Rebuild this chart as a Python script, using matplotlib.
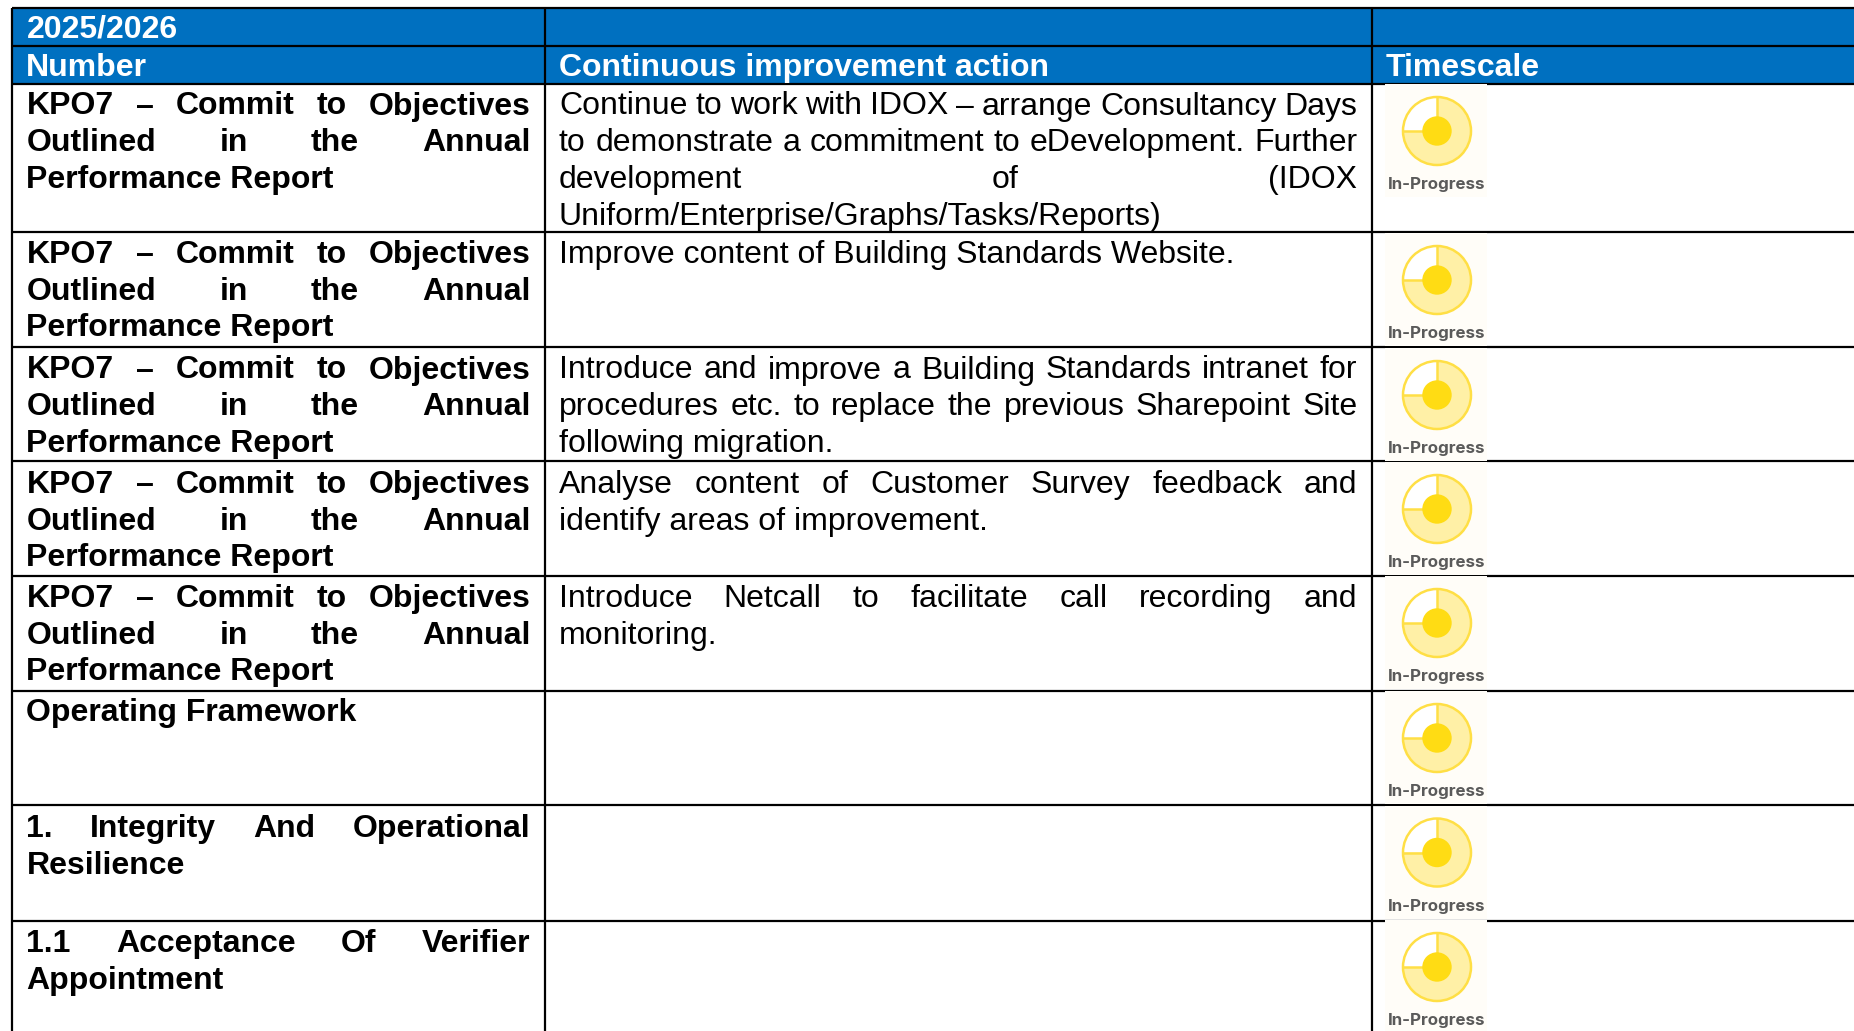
import matplotlib
matplotlib.use('Agg')
import matplotlib.pyplot as plt
from matplotlib.patches import Rectangle, Wedge, Circle

plt.rcParams['font.family'] = ['Liberation Sans', 'DejaVu Sans']

# table content, one list per line, last line of a cell is not justified
period = '2025/2026'
headers = ['Number', 'Continuous improvement action', 'Timescale']
kpo = ['KPO7 – Commit to Objectives', 'Outlined in the Annual', 'Performance Report']
numbers = [
    kpo, kpo, kpo, kpo, kpo,
    ['Operating Framework'],
    ['1. Integrity And Operational', 'Resilience'],
    ['1.1 Acceptance Of Verifier', 'Appointment'],
]
actions = [
    ['Continue to work with IDOX – arrange Consultancy Days',
     'to demonstrate a commitment to eDevelopment. Further',
     'development of (IDOX',
     'Uniform/Enterprise/Graphs/Tasks/Reports)'],
    ['Improve content of Building Standards Website.'],
    ['Introduce and improve a Building Standards intranet for',
     'procedures etc. to replace the previous Sharepoint Site',
     'following migration.'],
    ['Analyse content of Customer Survey feedback and',
     'identify areas of improvement.'],
    ['Introduce Netcall to facilitate call recording and',
     'monitoring.'],
    [], [], [],
]
status = 'In-Progress'

# layout, in pixels
W, H = 1854, 1031
col_x = [12, 545, 1372]
head_y = [8, 46, 84]
row_y = [84, 232, 346.5, 461, 576, 690.5, 805, 921]
text_y = [114.5, 263, 378.5, 493, 607, 721.5, 837, 952]
icon_y = [131, 280, 395, 509, 623, 738, 852.5, 967]
blue = '#0070C0'
fs = 23
line_h = 36.7

fig = plt.figure(figsize=(W / 100, H / 100), dpi=100)
ax = fig.add_axes([0, 0, 1, 1])
ax.set_xlim(0, W)
ax.set_ylim(H, 0)
ax.axis('off')
rend = fig.canvas.get_renderer()


def put_line(line, x0, x1, y, justify, bold):
    weight = 'bold' if bold else 'normal'
    if not justify:
        ax.text(x0, y, line, fontsize=fs, fontweight=weight, va='baseline', color='black')
        return
    words = line.split(' ')
    arts = [ax.text(x0, y, w, fontsize=fs, fontweight=weight, va='baseline', color='black') for w in words]
    widths = [a.get_window_extent(rend).width for a in arts]
    gap = (x1 - x0 - sum(widths)) / (len(words) - 1)
    x = x0
    for a, w in zip(arts, widths):
        a.set_x(x)
        x += w + gap


def put_cell(lines, x0, x1, base, bold):
    for i, line in enumerate(lines):
        put_line(line, x0, x1, base + i * line_h, i < len(lines) - 1, bold)


def put_icon(cy):
    cx = 1437
    ax.add_patch(Rectangle((1385, cy - 47), 102, 113, fc='#FFFDF8', ec='none', zorder=3))
    ax.add_patch(Circle((cx, cy), 34, fc='#FFF0A6', ec='none', zorder=4))
    ax.add_patch(Wedge((cx, cy), 34, 180, 270, fc='white', ec='none', zorder=4))
    ax.add_patch(Circle((cx, cy), 34, fc='none', ec='#FFDF45', lw=1.8, zorder=5))
    ax.plot([cx, cx], [cy - 34, cy], color='#FFDF45', lw=1.8, zorder=5)
    ax.plot([cx - 34, cx], [cy, cy], color='#FFDF45', lw=1.8, zorder=5)
    ax.add_patch(Circle((cx, cy), 14.7, fc='#FFDC14', ec='none', zorder=6))
    ax.text(cx, cy + 53.5, status, fontsize=12.2, color='#5A5A5A', fontweight='bold',
            family=['Inter', 'DejaVu Sans'], ha='center', va='center', zorder=6)


# header bands
ax.add_patch(Rectangle((col_x[0], head_y[0]), W - col_x[0], head_y[2] - head_y[0], fc=blue, ec='none'))
ax.text(col_x[0] + 14.5, 38, period, color='white', fontsize=fs, fontweight='bold', va='baseline')
for x, h in zip(col_x, headers):
    ax.text(x + 14, 76, h, color='white', fontsize=fs, fontweight='bold', va='baseline')

# rules
for y in head_y + row_y[1:]:
    ax.plot([col_x[0], W], [y, y], color='black', lw=1.6, solid_capstyle='butt', zorder=2)
for x in col_x:
    ax.plot([x, x], [head_y[0], H], color='black', lw=1.6, solid_capstyle='butt', zorder=2)

# rows
for i in range(len(numbers)):
    put_cell(numbers[i], col_x[0] + 14.5, col_x[1] - 14.5, text_y[i], True)
    put_cell(actions[i], col_x[1] + 14, col_x[2] - 14.5, text_y[i], False)
    put_icon(icon_y[i])

fig.savefig('out.png', dpi=100, facecolor='white')
